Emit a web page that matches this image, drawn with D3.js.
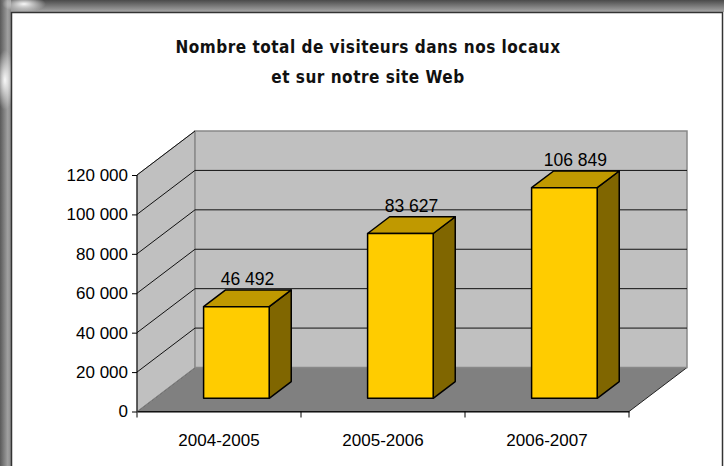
<!DOCTYPE html>
<html>
<head>
<meta charset="utf-8">
<script src="https://cdn.jsdelivr.net/npm/d3@7"></script>
<style>
  body { margin: 0; background: #fff; }
  svg { display: block; }
</style>
</head>
<body>
<div id="chart"></div>
<script>
const categories = ["2004-2005", "2005-2006", "2006-2007"];
const visitors = [46492, 83627, 106849];
const yTicks = [0, 20000, 40000, 60000, 80000, 100000, 120000];
const titleLines = ["Nombre total de visiteurs dans nos locaux", "et sur notre site Web"];

const width = 724, height = 466;
const depthX = 58, depthY = 44;      // 3d offset of the back wall
const barFront = 0.30, barBack = 0.68; // bar depth as fraction of the floor depth

const svg = d3.select("#chart").append("svg")
  .attr("width", width)
  .attr("height", height);

const defs = svg.append("defs");
const topGrad = defs.append("linearGradient").attr("id", "topGrad")
  .attr("x1", 0).attr("y1", 0).attr("x2", 0).attr("y2", 1);
topGrad.append("stop").attr("offset", 0).attr("stop-color", "#4a4a4a");
topGrad.append("stop").attr("offset", 1).attr("stop-color", "#a8a8a8");
const leftGrad = defs.append("linearGradient").attr("id", "leftGrad")
  .attr("x1", 0).attr("y1", 0).attr("x2", 1).attr("y2", 0);
leftGrad.append("stop").attr("offset", 0).attr("stop-color", "#5a5a5a");
leftGrad.append("stop").attr("offset", 0.7).attr("stop-color", "#a0a0a0");
leftGrad.append("stop").attr("offset", 1).attr("stop-color", "#8a8a8a");
const glow = defs.append("radialGradient").attr("id", "glow");
glow.append("stop").attr("offset", 0).attr("stop-color", "#ffffff").attr("stop-opacity", 0.95);
glow.append("stop").attr("offset", 1).attr("stop-color", "#ffffff").attr("stop-opacity", 0);

// frame around the white panel
svg.append("rect").attr("width", width).attr("height", 12).attr("fill", "url(#topGrad)");
svg.append("rect").attr("y", 0).attr("width", 11).attr("height", height).attr("fill", "url(#leftGrad)");
svg.append("ellipse").attr("cx", 5).attr("cy", 80).attr("rx", 10).attr("ry", 30).attr("fill", "url(#glow)");
svg.append("ellipse").attr("cx", 24).attr("cy", 4).attr("rx", 22).attr("ry", 8).attr("fill", "url(#glow)");
svg.append("rect")
  .attr("x", 11.5).attr("y", 12.5).attr("width", 711).attr("height", height)
  .attr("fill", "#fff").attr("stroke", "#333").attr("stroke-width", 1.5);

// title
svg.append("text")
  .attr("text-anchor", "middle")
  .attr("font-family", "'DejaVu Sans Condensed', 'DejaVu Sans', sans-serif")
  .attr("font-weight", "bold")
  .attr("font-size", 17)
  .attr("letter-spacing", 0.5)
  .attr("fill", "#111")
  .selectAll("tspan")
  .data(titleLines)
  .join("tspan")
  .attr("x", 368)
  .attr("y", (d, i) => 53 + i * 30)
  .text(d => d);

const x = d3.scaleBand().domain(categories).range([137, 629]);
const y = d3.scaleLinear().domain([0, 120000]).range([411.5, 175]);
const x0 = x.range()[0], x1 = x.range()[1];
const yMax = y.domain()[1];

// floor
svg.append("polygon")
  .attr("points", [[x0, y(0)], [x1, y(0)], [x1 + depthX, y(0) - depthY], [x0 + depthX, y(0) - depthY]].join(" "))
  .attr("fill", "#808080").attr("stroke", "#222").attr("stroke-width", 1);

// side wall
svg.append("polygon")
  .attr("points", [[x0, y(0)], [x0, y(yMax)], [x0 + depthX, y(yMax) - depthY], [x0 + depthX, y(0) - depthY]].join(" "))
  .attr("fill", "#c0c0c0").attr("stroke", "#888").attr("stroke-width", 1);

// back wall
svg.append("rect")
  .attr("x", x0 + depthX).attr("y", y(yMax) - depthY)
  .attr("width", x1 - x0).attr("height", y(0) - y(yMax))
  .attr("fill", "#c0c0c0").attr("stroke", "#888").attr("stroke-width", 1.5);

// gridlines
const grid = svg.append("g").attr("stroke", "#111").attr("stroke-width", 1);
grid.selectAll(".gb")
  .data(yTicks.filter(v => v > 0 && v < yMax))
  .join("line")
  .attr("x1", x0 + depthX).attr("x2", x1 + depthX)
  .attr("y1", d => y(d) - depthY).attr("y2", d => y(d) - depthY);
grid.selectAll(".gs")
  .data(yTicks.filter(v => v > 0))
  .join("line")
  .attr("x1", x0).attr("x2", x0 + depthX)
  .attr("y1", d => y(d)).attr("y2", d => y(d) - depthY);

// bars
const bw = x.bandwidth() * 0.4;
const fx = depthX * barFront, fy = depthY * barFront;
const bdx = depthX * (barBack - barFront), bdy = depthY * (barBack - barFront);
const bars = svg.append("g")
  .attr("stroke", "#000").attr("stroke-width", 1.5).attr("stroke-linejoin", "round")
  .selectAll("g")
  .data(categories.map((c, i) => ({ c, v: visitors[i] })))
  .join("g")
  .attr("transform", d => `translate(${x(d.c) + x.bandwidth() / 2 - bw / 2 + fx},${-fy})`);

bars.append("polygon") // side
  .attr("fill", "#806600")
  .attr("points", d => [[bw, y(0)], [bw + bdx, y(0) - bdy], [bw + bdx, y(d.v) - bdy], [bw, y(d.v)]].join(" "));
bars.append("polygon") // top
  .attr("fill", "#c09900")
  .attr("points", d => [[0, y(d.v)], [bdx, y(d.v) - bdy], [bw + bdx, y(d.v) - bdy], [bw, y(d.v)]].join(" "));
bars.append("rect") // front
  .attr("fill", "#ffcc00")
  .attr("x", 0).attr("y", d => y(d.v))
  .attr("width", bw).attr("height", d => y(0) - y(d.v));

const fmt = v => d3.format(",")(v).replace(/,/g, " ");

bars.append("text")
  .attr("stroke", "none")
  .attr("fill", "#000")
  .attr("font-family", "'Liberation Sans', Arial, sans-serif")
  .attr("font-size", 17.5)
  .attr("text-anchor", "middle")
  .attr("x", bw / 2 + bdx / 2)
  .attr("y", d => y(d.v) - bdy - 5)
  .text(d => fmt(d.v));

// y axis
const yAxis = svg.append("g").attr("transform", `translate(${x0},0)`)
  .call(d3.axisLeft(y).tickValues(yTicks).tickSize(5).tickPadding(4).tickFormat(fmt));
yAxis.select(".domain").attr("stroke", "#000").attr("d", `M0,${y(0)}V${y(yMax)}`);
yAxis.selectAll("text")
  .attr("font-family", "'Liberation Sans', Arial, sans-serif")
  .attr("font-size", 17).attr("fill", "#000");

// x axis
const xAxis = svg.append("g").attr("transform", `translate(0,${y(0)})`)
  .call(d3.axisBottom(x).tickSize(0).tickPadding(22));
xAxis.select(".domain").attr("stroke", "#000");
xAxis.selectAll("text")
  .attr("font-family", "'Liberation Sans', Arial, sans-serif")
  .attr("font-size", 17).attr("fill", "#000");
xAxis.selectAll(".sep")
  .data(d3.range(categories.length + 1))
  .join("line")
  .attr("stroke", "#000")
  .attr("x1", i => x0 + i * x.step()).attr("x2", i => x0 + i * x.step())
  .attr("y1", 0).attr("y2", 6);
</script>
</body>
</html>
